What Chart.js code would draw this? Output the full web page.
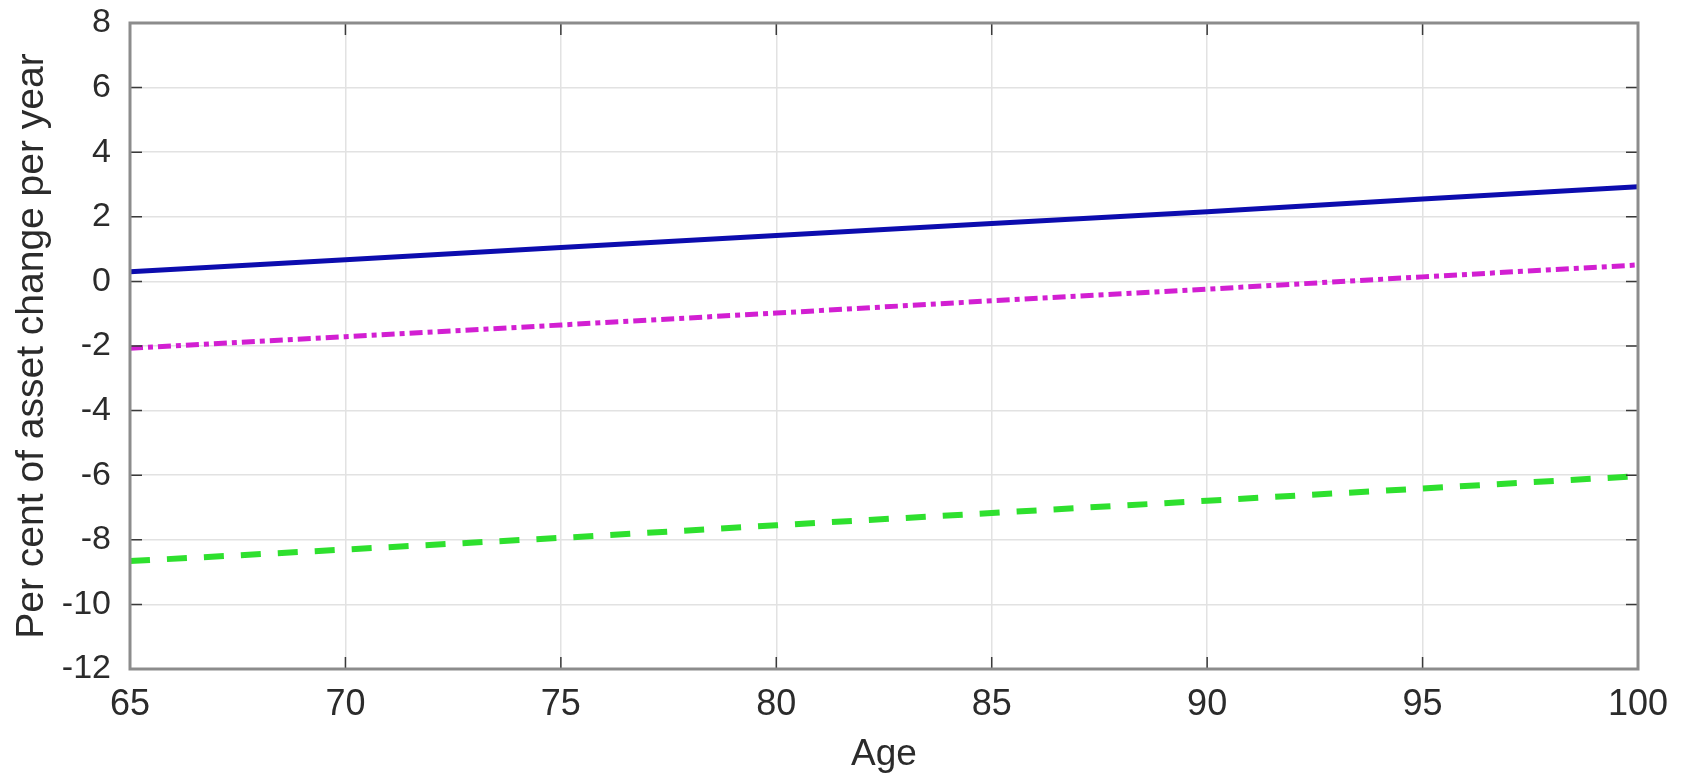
<!DOCTYPE html>
<html lang="en">
<head>
    <meta charset="UTF-8">
    <title>Per cent of asset change per year</title>
    <script src="https://cdn.jsdelivr.net/npm/chart.js"></script>
    <style>
        html, body { margin: 0; padding: 0; background: #fff; }
        #wrap { width: 1685px; height: 774px; position: relative; }
    </style>
</head>
<body>
    <div id="wrap"><canvas id="assetChart"></canvas></div>

    <script>
        // values
        const ages = [65, 70, 75, 80, 85, 90, 95, 100];
        const blueValues = [0.30, 0.67, 1.05, 1.42, 1.79, 2.16, 2.55, 2.93];
        const magentaValues = [-2.07, -1.71, -1.35, -0.98, -0.60, -0.24, 0.14, 0.51];
        const greenValues = [-8.66, -8.30, -7.94, -7.55, -7.17, -6.79, -6.41, -6.03];
        const xTicks = [65, 70, 75, 80, 85, 90, 95, 100];
        const yTicks = [-12, -10, -8, -6, -4, -2, 0, 2, 4, 6, 8];

        const toPoints = vals => ages.map((a, i) => ({ x: a, y: vals[i] }));
        const fontFamily = 'Liberation Sans, Arial, sans-serif';

        // matlab style box with inward tick marks
        const boxPlugin = {
            id: 'box',
            afterDatasetsDraw(chart) {
                const { ctx, chartArea: a, scales: { x, y } } = chart;
                ctx.save();
                ctx.strokeStyle = '#3a3a3a';
                ctx.lineWidth = 1.5;
                ctx.beginPath();
                xTicks.forEach(v => {
                    const px = x.getPixelForValue(v);
                    ctx.moveTo(px, a.bottom); ctx.lineTo(px, a.bottom - 12);
                    ctx.moveTo(px, a.top); ctx.lineTo(px, a.top + 12);
                });
                yTicks.forEach(v => {
                    const py = y.getPixelForValue(v);
                    ctx.moveTo(a.left, py); ctx.lineTo(a.left + 12, py);
                    ctx.moveTo(a.right, py); ctx.lineTo(a.right - 12, py);
                });
                ctx.stroke();
                ctx.strokeStyle = '#8c8c8c';
                ctx.lineWidth = 3;
                ctx.strokeRect(a.left, a.top, a.right - a.left, a.bottom - a.top);
                ctx.restore();
            }
        };

        const ctx = document.getElementById('assetChart').getContext('2d');
        new Chart(ctx, {
            type: 'line',
            data: {
                datasets: [
                    {
                        label: 'Series 1',
                        data: toPoints(blueValues),
                        borderColor: '#0c0cae',
                        borderWidth: 5,
                        pointRadius: 0,
                        fill: false
                    },
                    {
                        label: 'Series 2',
                        data: toPoints(magentaValues),
                        borderColor: '#d21fd2',
                        borderWidth: 5,
                        borderDash: [13, 5, 5, 5],
                        pointRadius: 0,
                        fill: false
                    },
                    {
                        label: 'Series 3',
                        data: toPoints(greenValues),
                        borderColor: '#2ee02e',
                        borderWidth: 6,
                        borderDash: [20, 17],
                        pointRadius: 0,
                        fill: false
                    }
                ]
            },
            options: {
                responsive: true,
                maintainAspectRatio: false,
                animation: false,
                layout: { padding: { top: 23, right: 47, left: 0, bottom: 0 } },
                plugins: {
                    legend: { display: false },
                    tooltip: { enabled: false }
                },
                scales: {
                    x: {
                        type: 'linear',
                        min: 65,
                        max: 100,
                        afterFit: s => { s.height = 105; s.paddingLeft = 0; s.paddingRight = 0; },
                        afterBuildTicks: s => { s.ticks = xTicks.map(v => ({ value: v })); },
                        grid: { color: '#e2e2e2', lineWidth: 1.5, drawTicks: false },
                        border: { display: false },
                        ticks: {
                            padding: 14,
                            color: '#2b2b2b',
                            font: { family: fontFamily, size: 36 }
                        },
                        title: {
                            display: true,
                            text: 'Age',
                            color: '#2b2b2b',
                            padding: 0,
                            font: { family: fontFamily, size: 37, lineHeight: 1.05 }
                        }
                    },
                    y: {
                        min: -12,
                        max: 8,
                        afterFit: s => { s.width = 130; s.paddingTop = 0; s.paddingBottom = 0; },
                        afterBuildTicks: s => { s.ticks = yTicks.map(v => ({ value: v })); },
                        grid: { color: '#e2e2e2', lineWidth: 1.5, drawTicks: false },
                        border: { display: false },
                        ticks: {
                            padding: 19,
                            color: '#2b2b2b',
                            font: { family: fontFamily, size: 34 }
                        },
                        title: {
                            display: true,
                            text: 'Per cent of asset change per year',
                            color: '#2b2b2b',
                            padding: { top: 9, bottom: 0 },
                            font: { family: fontFamily, size: 39, lineHeight: 1.2 }
                        }
                    }
                }
            },
            plugins: [boxPlugin]
        });
    </script>
</body>
</html>
